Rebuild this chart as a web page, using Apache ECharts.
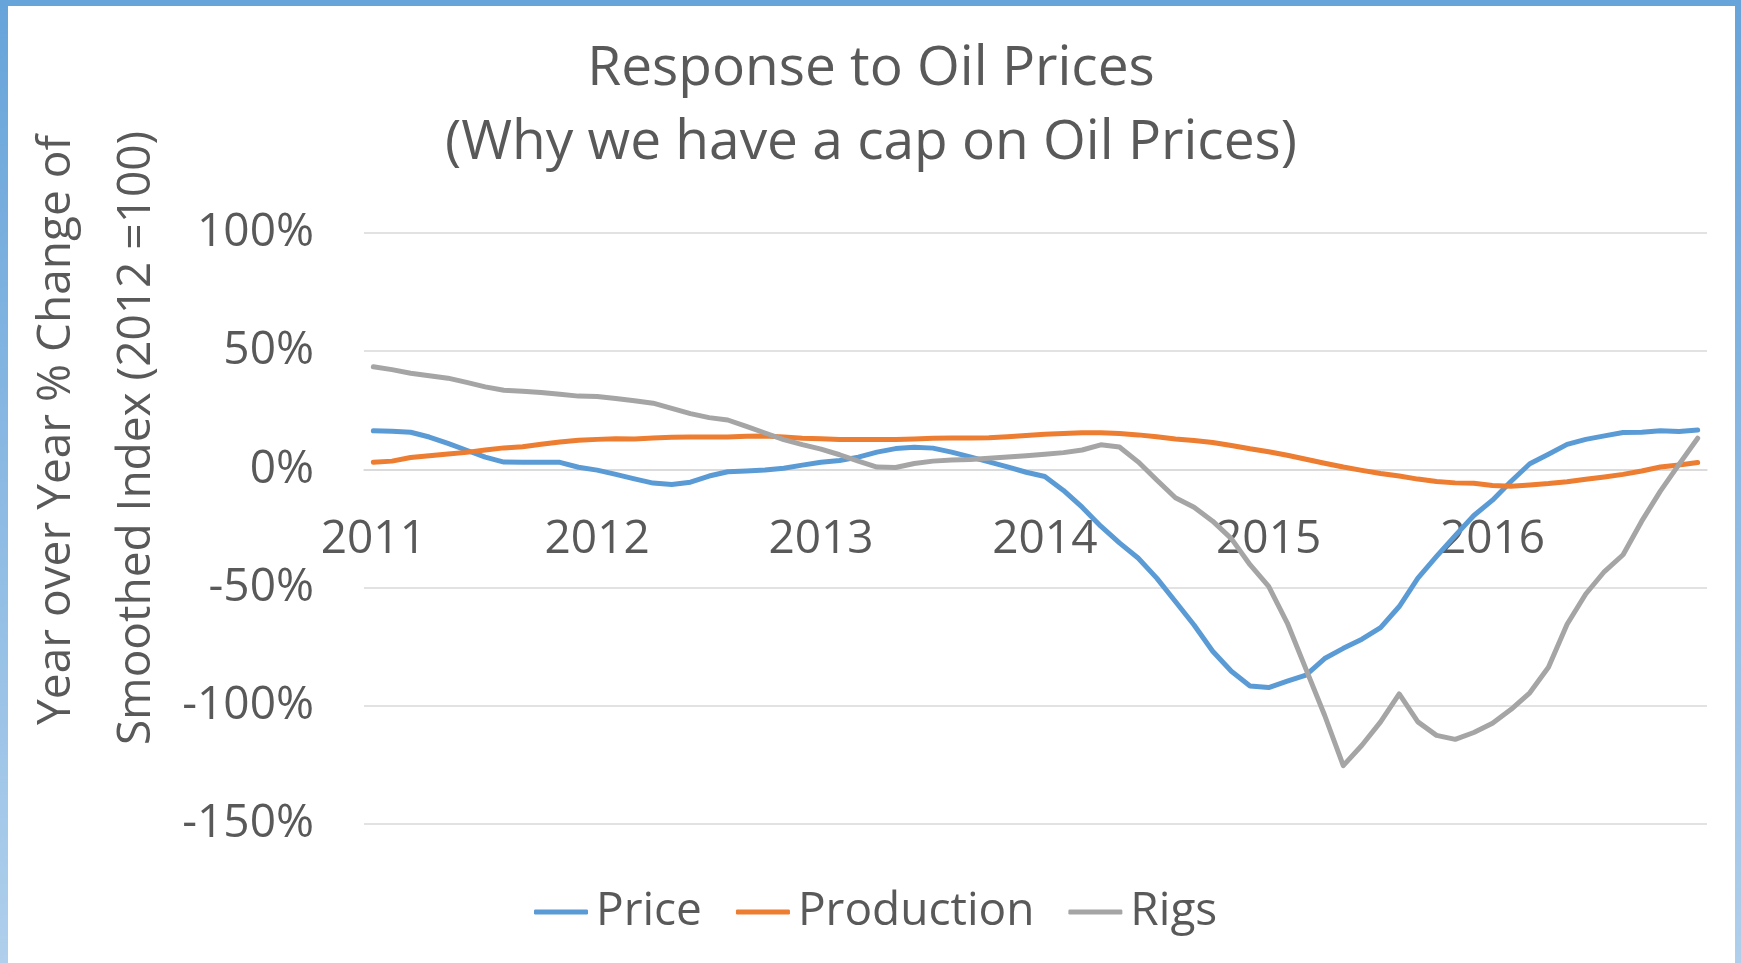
<!DOCTYPE html>
<html>
<head>
<meta charset="utf-8">
<script src="https://cdn.jsdelivr.net/npm/echarts@6/dist/echarts.min.js"></script>
<style>
html,body{margin:0;padding:0;background:#fff;}
#chart{width:1741px;height:963px;}
</style>
</head>
<body>
<div id="chart"></div>
<script>
// ---- data (monthly, Jan 2011 .. Dec 2016), % YoY change ----
const years = ['2011', '2012', '2013', '2014', '2015', '2016'];
const monthNames = ['01','02','03','04','05','06','07','08','09','10','11','12'];
const yTicks = [-150, -100, -50, 0, 50, 100];
const seriesNames = ['Price', 'Production', 'Rigs'];

const price = [
  16.3, 16.1, 15.7, 13.7, 11.0, 8.1, 5.2, 3.1, 3.0, 3.0, 3.0, 0.9,
  -0.3, -2.1, -4.0, -5.8, -6.4, -5.4, -2.8, -1.0, -0.7, -0.3, 0.5, 1.8,
  3.0, 3.8, 5.2, 7.3, 8.8, 9.4, 9.0, 7.3, 5.3, 3.2, 1.1, -1.2,
  -3.0, -8.9, -16.0, -24.0, -31.1, -37.5, -46.0, -55.9, -65.8, -76.9, -85.4, -91.6,
  -92.3, -89.6, -87.0, -80.0, -75.7, -71.8, -66.9, -58.0, -46.0, -36.8, -28.0, -19.5,
  -13.0, -5.0, 2.4, 6.4, 10.6, 12.7, 14.2, 15.6, 15.7, 16.3, 16.0, 16.7
];
const production = [
  3.0, 3.5, 5.0, 5.8, 6.5, 7.2, 8.2, 9.1, 9.6, 10.6, 11.6, 12.3,
  12.7, 13.0, 12.9, 13.3, 13.6, 13.7, 13.7, 13.7, 14.0, 14.1, 13.7, 13.2,
  13.0, 12.7, 12.7, 12.7, 12.7, 12.9, 13.2, 13.3, 13.3, 13.4, 13.8, 14.3,
  14.9, 15.2, 15.5, 15.5, 15.2, 14.6, 13.8, 12.9, 12.2, 11.4, 10.1, 8.7,
  7.5, 6.0, 4.3, 2.6, 1.0, -0.4, -1.7, -2.8, -4.1, -5.1, -5.7, -5.9,
  -6.8, -7.1, -6.6, -6.0, -5.2, -4.2, -3.2, -2.1, -0.7, 1.0, 1.9, 2.9
];
const rigs = [
  43.4, 42.2, 40.7, 39.6, 38.6, 36.8, 34.9, 33.5, 33.1, 32.5, 31.8, 31.0,
  30.8, 30.0, 29.0, 28.0, 25.8, 23.6, 21.9, 20.9, 18.2, 15.4, 12.6, 10.5,
  8.6, 6.2, 3.5, 1.0, 0.8, 2.5, 3.5, 4.0, 4.2, 4.7, 5.2, 5.8,
  6.4, 7.1, 8.2, 10.4, 9.5, 3.2, -4.5, -12.0, -16.0, -21.9, -29.3, -40.3,
  -49.5, -65.0, -84.5, -104.0, -125.3, -116.7, -106.8, -95.0, -106.8, -112.5, -114.2, -111.3,
  -107.4, -101.5, -94.5, -83.7, -65.5, -52.7, -43.2, -36.1, -21.9, -9.2, 2.1, 13.2
];

const categories = [];
years.forEach(y => monthNames.forEach(m => categories.push(y + '-' + m)));

const FONT = '"Open Sans", "Noto Sans", sans-serif';
const TXT = '#595959';

const W = 1741, H = 963;
const GRID = {left: 364, right: 34, top: 233, bottom: 139};
const yMin = yTicks[0], yMax = yTicks[yTicks.length - 1];
const gridH = H - GRID.top - GRID.bottom;
// place the category axis where the value axis crosses zero (as in the original)
const zeroOffset = -gridH * (0 - yMin) / (yMax - yMin);

const chart = echarts.init(document.getElementById('chart'), null, {renderer: 'canvas'});
chart.setOption({
  animation: false,
  backgroundColor: '#ffffff',
  color: ['#5B9BD5', '#ED7D31', '#A5A5A5'],
  grid: Object.assign({containLabel: false}, GRID),
  xAxis: {
    type: 'category',
    data: categories,
    boundaryGap: true,
    position: 'bottom',
    offset: zeroOffset,
    axisLine: {onZero: false, lineStyle: {color: '#D9D9D9', width: 1.5}},
    axisTick: {show: false},
    axisLabel: {
      interval: 11,
      margin: 47,
      fontFamily: FONT, fontSize: 46, color: TXT,
      formatter: v => v.slice(0, 4)
    },
    splitLine: {show: false}
  },
  yAxis: {
    type: 'value',
    min: yMin, max: yMax, interval: 50,
    axisLine: {show: false},
    axisTick: {show: false},
    axisLabel: {margin: 50, fontFamily: FONT, fontSize: 46, color: TXT, formatter: v => v + '%'},
    splitLine: {lineStyle: {color: '#D9D9D9', width: 1.5}}
  },
  legend: {
    bottom: 23,
    left: 529,
    itemWidth: 54,
    itemHeight: 5,
    itemGap: 34,
    icon: 'roundRect',
    textStyle: {fontFamily: FONT, fontSize: 46, color: TXT, padding: [0, 0, 0, 3]},
    data: seriesNames
  },
  graphic: [
    {type: 'rect', shape: {x: 0, y: 0, width: W, height: 6}, style: {fill: '#67A4DA'}, z: 100},
    {type: 'rect', shape: {x: 0, y: 0, width: 8, height: H},
      style: {fill: new echarts.graphic.LinearGradient(0, 0, 0, 1, [{offset: 0, color: '#67A4DA'}, {offset: 1, color: '#AFCFEC'}])}, z: 100},
    {type: 'rect', shape: {x: W - 6, y: 0, width: 6, height: H},
      style: {fill: new echarts.graphic.LinearGradient(0, 0, 0, 1, [{offset: 0, color: '#67A4DA'}, {offset: 1, color: '#AFCFEC'}])}, z: 100},
    {type: 'text', x: 871, y: 69.5,
      style: {text: 'Response to Oil Prices', fontFamily: FONT, fontSize: 55, fill: TXT, align: 'center', verticalAlign: 'middle'}},
    {type: 'text', x: 871, y: 143.5,
      style: {text: '(Why we have a cap on Oil Prices)', fontFamily: FONT, fontSize: 55, fill: TXT, align: 'center', verticalAlign: 'middle'}},
    {type: 'text', x: 57, y: 430, rotation: Math.PI / 2,
      style: {text: 'Year over Year % Change of', fontFamily: FONT, fontSize: 46, fill: TXT, align: 'center', verticalAlign: 'middle'}},
    {type: 'text', x: 137, y: 438, rotation: Math.PI / 2,
      style: {text: 'Smoothed Index (2012 =100)', fontFamily: FONT, fontSize: 46, fill: TXT, align: 'center', verticalAlign: 'middle'}}
  ],
  series: [
    {name: seriesNames[0], type: 'line', data: price, showSymbol: false, symbol: 'none', lineStyle: {width: 5, cap: 'round', join: 'round'}},
    {name: seriesNames[1], type: 'line', data: production, showSymbol: false, symbol: 'none', lineStyle: {width: 5, cap: 'round', join: 'round'}},
    {name: seriesNames[2], type: 'line', data: rigs, showSymbol: false, symbol: 'none', lineStyle: {width: 5, cap: 'round', join: 'round'}}
  ]
});
</script>
</body>
</html>
